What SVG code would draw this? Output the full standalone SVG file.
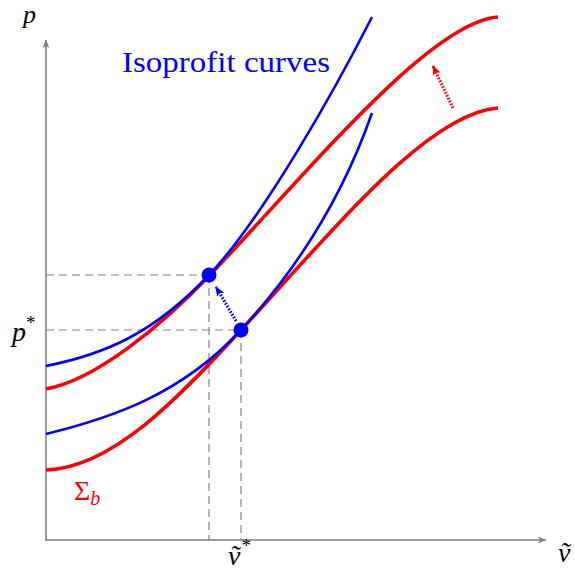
<svg xmlns="http://www.w3.org/2000/svg" width="575" height="572" viewBox="0 0 575 572">
<style>
.axis{stroke:#808080;stroke-width:1.6;fill:none}
.dash{stroke:#808080;stroke-width:1.2;fill:none;stroke-dasharray:8 5}
.red{stroke:#ff0000;stroke-width:3.6;fill:none}
.blue{stroke:#0000ff;stroke-width:2.6;fill:none}
.lbl{font-family:"Liberation Serif","DejaVu Serif",serif;font-style:italic}
</style>
<defs>
<marker id="ax" markerWidth="10" markerHeight="10" refX="9" refY="5" orient="auto" markerUnits="userSpaceOnUse">
<path d="M1,1.5 L9,5 L1,8.5 L3,5 Z" fill="#808080"/>
</marker>
<marker id="ab" markerWidth="12" markerHeight="12" refX="9" refY="6" orient="auto" markerUnits="userSpaceOnUse">
<path d="M0,2 L10,6 L0,10 L2,6 Z" fill="#0000ff"/>
</marker>
<marker id="ar" markerWidth="12" markerHeight="12" refX="9" refY="6" orient="auto" markerUnits="userSpaceOnUse">
<path d="M0,2 L10,6 L0,10 L2,6 Z" fill="#ff0000"/>
</marker>
</defs>
<g id="axes">
<line class="axis" x1="46" y1="541" x2="46" y2="40" marker-end="url(#ax)"/>
<line class="axis" x1="45" y1="540" x2="546" y2="540" marker-end="url(#ax)"/>
</g>
<g id="guides">
<path class="dash" d="M46,275 H209 M46,330 H241 M209,275 V540 M241,330 V540"/>
</g>
<g id="connectors">
<path class="red" d="M46,470 C111,468 176,401 241,330 C341,221 430,113 498,108"/>
<path class="red" d="M46,389 C95,380 159,328 209,276 C309,171 430,22 498,17"/>
<path class="blue" d="M46,366 C106,354 154,333 209,275 C264,217 337,86 372,17"/>
<path class="blue" d="M46,434 C111,418 181,395 241,330 C301,265 345,190 372,113"/>
<path d="M236,321 L216,287" stroke="#0000ff" stroke-width="3.2" stroke-dasharray="1.6 1.6" fill="none" marker-end="url(#ab)"/>
<path d="M453,108 L433,66" stroke="#ff0000" stroke-width="3.2" stroke-dasharray="1.6 1.6" fill="none" marker-end="url(#ar)"/>
</g>
<g id="pt1"><circle cx="209" cy="275" r="7.5" fill="#0000ff"/></g>
<g id="pt2"><circle cx="241" cy="330" r="7.5" fill="#0000ff"/></g>
<g id="labels">
<text class="lbl" x="23" y="23" font-size="26">p</text>
<text class="lbl" x="12" y="341" font-size="28">p<tspan font-style="normal" font-size="19" dy="-12">*</tspan></text>
<text class="lbl" x="228" y="565" font-size="28">ṽ<tspan font-style="normal" font-size="19" dy="-13" dx="1">*</tspan></text>
<text class="lbl" x="558" y="562" font-size="28">ṽ</text>
<text x="74" y="500" font-family="Liberation Serif,serif" font-size="28" fill="#ff0000">Σ<tspan class="lbl" font-size="20" dy="5">b</tspan></text>
<text x="122" y="72" font-family="Liberation Serif,serif" font-size="30" fill="#0000ff" textLength="208" lengthAdjust="spacingAndGlyphs">Isoprofit curves</text>
</g>
</svg>
